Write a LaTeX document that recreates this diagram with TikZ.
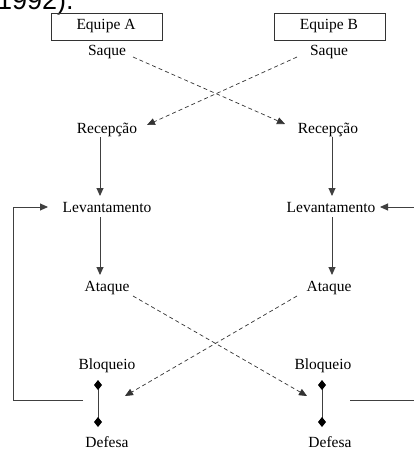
\documentclass[tikz,border=0pt]{standalone}
\usepackage{fontspec}
\setmainfont{Liberation Serif}
\newfontfamily\hdr{Liberation Sans}
\usetikzlibrary{arrows.meta}
\begin{document}
\begin{tikzpicture}[x=1pt,y=-1pt,
  lbl/.style={font=\fontsize{15.5}{18}\selectfont, inner sep=0pt, anchor=base},
  solidarr/.style={draw=black!75, line width=0.9pt, -{Triangle[length=8pt,width=7pt]}},
  dasharr/.style={draw=black!80, line width=0.7pt, dash pattern=on 4pt off 3pt, -{Triangle[length=8pt,width=7pt]}},
  loopln/.style={draw=black!75, line width=0.9pt},
  teambox/.style={draw=black!80, line width=0.8pt, minimum width=111pt, minimum height=27pt, inner sep=0pt, anchor=north west}]
\useasboundingbox (0,0) rectangle (414,451);
\begin{scope}
\clip (0,0) rectangle (414,451);
\node[anchor=base west, inner sep=0pt, font=\hdr\fontsize{27}{30}\selectfont] (yr) at (-3,9) {1992).};
\end{scope}
% team boxes
\node[teambox] (ea) at (51,13) {};
\node[lbl] (eat) at (106,29) {Equipe A};
\node[teambox] (eb) at (274,13) {};
\node[lbl] (ebt) at (329,29) {Equipe B};
% labels A
\node[lbl] (sa) at (107,55) {Saque};
\node[lbl] (ra) at (107,133) {Recepção};
\node[lbl] (la) at (107,212) {Levantamento};
\node[lbl] (aa) at (107,291) {Ataque};
\node[lbl] (ba) at (107,369) {Bloqueio};
\node[lbl] (da) at (107,447) {Defesa};
% labels B
\node[lbl] (sb) at (329,55) {Saque};
\node[lbl] (rb) at (328,133) {Recepção};
\node[lbl] (lb) at (331,212) {Levantamento};
\node[lbl] (ab) at (329,291) {Ataque};
\node[lbl] (bb) at (323,369) {Bloqueio};
\node[lbl] (db) at (330,447) {Defesa};
% coordinates
\coordinate (sae) at (133,57);
\coordinate (sbe) at (297,57);
\coordinate (rat) at (147,125);
\coordinate (rbt) at (285,124);
\coordinate (aae) at (133,296);
\coordinate (abe) at (297,296);
\coordinate (bat) at (125,396);
\coordinate (bbt) at (307,396);
% crossing dashed arrows
\draw[dasharr] (sae) -- (rbt);
\draw[dasharr] (sbe) -- (rat);
\draw[dasharr] (aae) -- (bbt);
\draw[dasharr] (abe) -- (bat);
% vertical arrows
\coordinate (ra1) at (100,137); \coordinate (la0) at (100,196);
\coordinate (la1) at (100,217); \coordinate (aa0) at (100,275);
\coordinate (rb1) at (332,137); \coordinate (lb0) at (332,196);
\coordinate (lb1) at (332,217); \coordinate (ab0) at (332,275);
\draw[solidarr] (ra1) -- (la0);
\draw[solidarr] (la1) -- (aa0);
\draw[solidarr] (rb1) -- (lb0);
\draw[solidarr] (lb1) -- (ab0);
% block-defense diamonds
\coordinate (dA1) at (98,385); \coordinate (dA2) at (98,422);
\coordinate (dB1) at (322,385); \coordinate (dB2) at (322,422);
\draw[loopln] (dA1) -- (dA2);
\draw[loopln] (dB1) -- (dB2);
\foreach \p in {dA1,dA2,dB1,dB2}
  \fill[black] (\p) +(0,-5) -- +(4,0) -- +(0,5) -- +(-4,0) -- cycle;
% loops
\coordinate (lA0) at (83,400); \coordinate (lA1) at (13,400); \coordinate (lA2) at (13,207); \coordinate (lAt) at (48,207);
\draw[loopln] (lA0) -- (lA1) -- (lA2);
\draw[solidarr] (lA2) -- (lAt);
\coordinate (rB0) at (414,207); \coordinate (rBt) at (380,207);
\draw[solidarr] (rB0) -- (rBt);
\coordinate (rC0) at (350,400); \coordinate (rC1) at (414,400);
\draw[loopln] (rC0) -- (rC1);
\end{tikzpicture}
\end{document}
